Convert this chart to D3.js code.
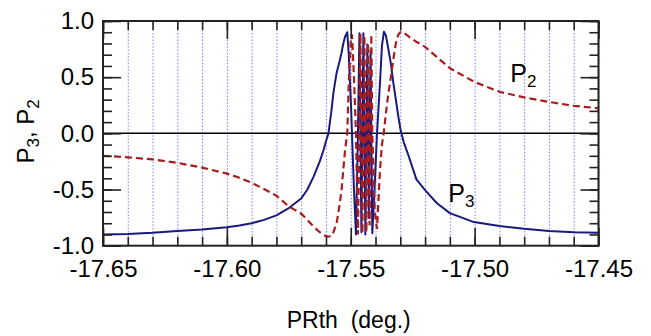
<!DOCTYPE html>
<html>
<head>
<meta charset="utf-8">
<script src="https://cdn.jsdelivr.net/npm/d3@7"></script>
<style>
  body { margin: 0; background: #fff; }
  svg text { font-family: "Liberation Sans", Arial, Helvetica, sans-serif; fill: #000; }
  .axis path { display: none; }
  .axis line { stroke: #222; stroke-width: 1.6px; }
  .grid line { stroke: #7a7aff; stroke-width: 1px; stroke-dasharray: 1.5,1.8; }
</style>
</head>
<body>
<div id="chart"></div>
<script>
// PRth (deg.) sample positions, shared by both series
const prth = [
  -17.650, -17.640, -17.630, -17.620, -17.610, -17.600, -17.595, -17.590, -17.585, -17.580,
  -17.575, -17.570, -17.5675, -17.565, -17.5625, -17.561, -17.560, -17.559, -17.5578, -17.557,
  -17.5557, -17.5544, -17.5537, -17.553, -17.5523, -17.5514, -17.5508, -17.5499, -17.5495, -17.5487,
  -17.5479, -17.5471, -17.5465, -17.5461, -17.5457, -17.5453, -17.5449, -17.5445, -17.5441, -17.5437,
  -17.5433, -17.5430, -17.5427, -17.5424, -17.5420, -17.5417, -17.5413, -17.5403, -17.5394, -17.5382,
  -17.5374, -17.5366, -17.5358, -17.5349, -17.5338, -17.5328, -17.5318, -17.5308, -17.5298, -17.5286,
  -17.5265, -17.5235, -17.5200, -17.5153, -17.5100, -17.5003, -17.4900, -17.4800, -17.4700, -17.4600,
  -17.4500
];
const p3 = [
  -0.900, -0.895, -0.885, -0.870, -0.855, -0.835, -0.820, -0.800, -0.770, -0.730,
  -0.665, -0.580, -0.500, -0.385, -0.250, -0.150, -0.070, 0.000, 0.200, 0.360,
  0.540, 0.650, 0.720, 0.800, 0.860, 0.900, 0.700, 0.250, 0.000, -0.500,
  -0.900, 0.000, 0.890, 0.000, -0.880, 0.000, 0.890, 0.000, -0.900, 0.000,
  0.790, 0.000, -0.750, 0.000, 0.740, 0.000, -0.890, -0.450, 0.000, 0.450,
  0.780, 0.905, 0.870, 0.760, 0.620, 0.450, 0.300, 0.150, 0.020, -0.080,
  -0.210, -0.410, -0.505, -0.620, -0.710, -0.790, -0.825, -0.850, -0.870, -0.880,
  -0.885
];
const p2 = [
  -0.200, -0.213, -0.232, -0.262, -0.305, -0.358, -0.395, -0.440, -0.495, -0.555,
  -0.650, -0.715, -0.770, -0.830, -0.880, -0.905, -0.915, -0.918, -0.915, -0.880,
  -0.800, -0.620, -0.500, -0.320, -0.150, 0.000, 0.450, 0.860, 0.880, 0.500,
  0.000, -0.900, 0.000, 0.890, 0.000, -0.890, 0.000, 0.870, 0.000, -0.880,
  0.000, 0.800, 0.000, -0.820, 0.000, 0.880, 0.000, -0.700, -0.850, -0.330,
  -0.100, 0.020, 0.180, 0.340, 0.500, 0.660, 0.800, 0.880, 0.905, 0.895,
  0.860, 0.815, 0.770, 0.680, 0.580, 0.460, 0.370, 0.320, 0.280, 0.245,
  0.223
];

const xMajor = [-17.65, -17.60, -17.55, -17.50, -17.45];
const xMajorLabels = ['-17.65', '-17.60', '-17.55', '-17.50', '-17.45'];
const yMajor = [-1.0, -0.5, 0.0, 0.5, 1.0];
const yMajorLabels = ['-1.0', '-0.5', '0.0', '0.5', '1.0'];

const W = 651, H = 336;
const margin = { top: 21, right: 52.5, bottom: 90.3, left: 103 };
const width = W - margin.left - margin.right;
const height = H - margin.top - margin.bottom;

const svg = d3.select('#chart').append('svg')
  .attr('width', W)
  .attr('height', H);

const chart = svg.append('g')
  .attr('transform', `translate(${margin.left}, ${margin.top})`);

const xScale = d3.scaleLinear().domain([-17.65, -17.45]).range([0, width]);
const yScale = d3.scaleLinear().domain([-1, 1]).range([height, 0]);

// minor tick positions (0.01 in x, 0.1 in y)
const xMinor = d3.range(0, 21).map(i => +(-17.65 + i * 0.01).toFixed(2));
const yMinor = d3.range(0, 21).map(i => +(-1 + i * 0.1).toFixed(1));

// dotted vertical grid
chart.append('g')
  .attr('class', 'grid')
  .attr('transform', `translate(0, ${height})`)
  .call(d3.axisBottom(xScale).tickValues(xMinor).tickSize(-height).tickFormat(''))
  .select('.domain').remove();

// zero line
chart.append('line')
  .attr('x1', 0).attr('x2', width)
  .attr('y1', yScale(0)).attr('y2', yScale(0))
  .attr('stroke', '#000').attr('stroke-width', 1.5);

// curves
chart.append('clipPath').attr('id', 'clip')
  .append('rect').attr('width', width).attr('height', height);

const lineP3 = d3.line().x((d, i) => xScale(prth[i])).y(d => yScale(d));
const lineP2 = d3.line().x((d, i) => xScale(prth[i])).y(d => yScale(d));

chart.append('path')
  .datum(p3)
  .attr('clip-path', 'url(#clip)')
  .attr('fill', 'none')
  .attr('stroke', '#1a1a7e')
  .attr('stroke-width', 2)
  .attr('stroke-linejoin', 'round')
  .attr('d', lineP3);

chart.append('path')
  .datum(p2)
  .attr('clip-path', 'url(#clip)')
  .attr('fill', 'none')
  .attr('stroke', '#a81e1e')
  .attr('stroke-width', 2.2)
  .attr('stroke-dasharray', '7,4')
  .attr('d', lineP2);

// ticks on all four sides, pointing inward
function ticks(axisFn, values, size, transform, labels) {
  const ax = axisFn(values === xMajor || values === xMinor ? xScale : yScale)
    .tickValues(values)
    .tickSizeInner(-size)
    .tickSizeOuter(0);
  if (labels) ax.tickFormat((d, i) => labels[i]); else ax.tickFormat('');
  return chart.append('g').attr('class', 'axis').attr('transform', transform).call(ax);
}

ticks(d3.axisBottom, xMinor, 9, `translate(0, ${height})`);
ticks(d3.axisTop, xMinor, 9, 'translate(0, 0)');
ticks(d3.axisLeft, yMinor, 9, 'translate(0, 0)');
ticks(d3.axisRight, yMinor, 9, `translate(${width}, 0)`);

const xAxis = ticks(d3.axisBottom, xMajor, 18, `translate(0, ${height})`, xMajorLabels);
xAxis.call(g => g.selectAll('.tick text').attr('y', 14).style('font-size', '24px'));
ticks(d3.axisTop, xMajor, 18, 'translate(0, 0)');
const yAxis = ticks(d3.axisLeft, yMajor, 18, 'translate(0, 0)', yMajorLabels);
yAxis.call(g => g.selectAll('.tick text').attr('x', -9).style('font-size', '24px'));
ticks(d3.axisRight, yMajor, 18, `translate(${width}, 0)`);

// frame
chart.append('rect')
  .attr('width', width).attr('height', height)
  .attr('fill', 'none').attr('stroke', '#222').attr('stroke-width', 2);

// axis titles
svg.append('text')
  .attr('x', margin.left + width / 2 - 2)
  .attr('y', 328)
  .attr('text-anchor', 'middle')
  .style('font-size', '23px')
  .style('white-space', 'pre')
  .text('PRth  (deg.)');

const yTitle = svg.append('text')
  .attr('transform', `translate(34, ${margin.top + height / 2 - 2}) rotate(-90)`)
  .attr('text-anchor', 'middle')
  .style('font-size', '24px');
yTitle.append('tspan').text('P');
yTitle.append('tspan').attr('dy', 5).style('font-size', '17px').text('3');
yTitle.append('tspan').attr('dy', -5).text(', P');
yTitle.append('tspan').attr('dy', 5).style('font-size', '17px').text('2');

// curve labels
function curveLabel(x, y, sub) {
  const t = chart.append('text')
    .attr('x', xScale(x)).attr('y', yScale(y))
    .style('font-size', '25px');
  t.append('tspan').text('P');
  t.append('tspan').attr('dy', 5).style('font-size', '17px').text(sub);
}
curveLabel(-17.4856, 0.46, '2');
curveLabel(-17.5106, -0.61, '3');
</script>
</body>
</html>
